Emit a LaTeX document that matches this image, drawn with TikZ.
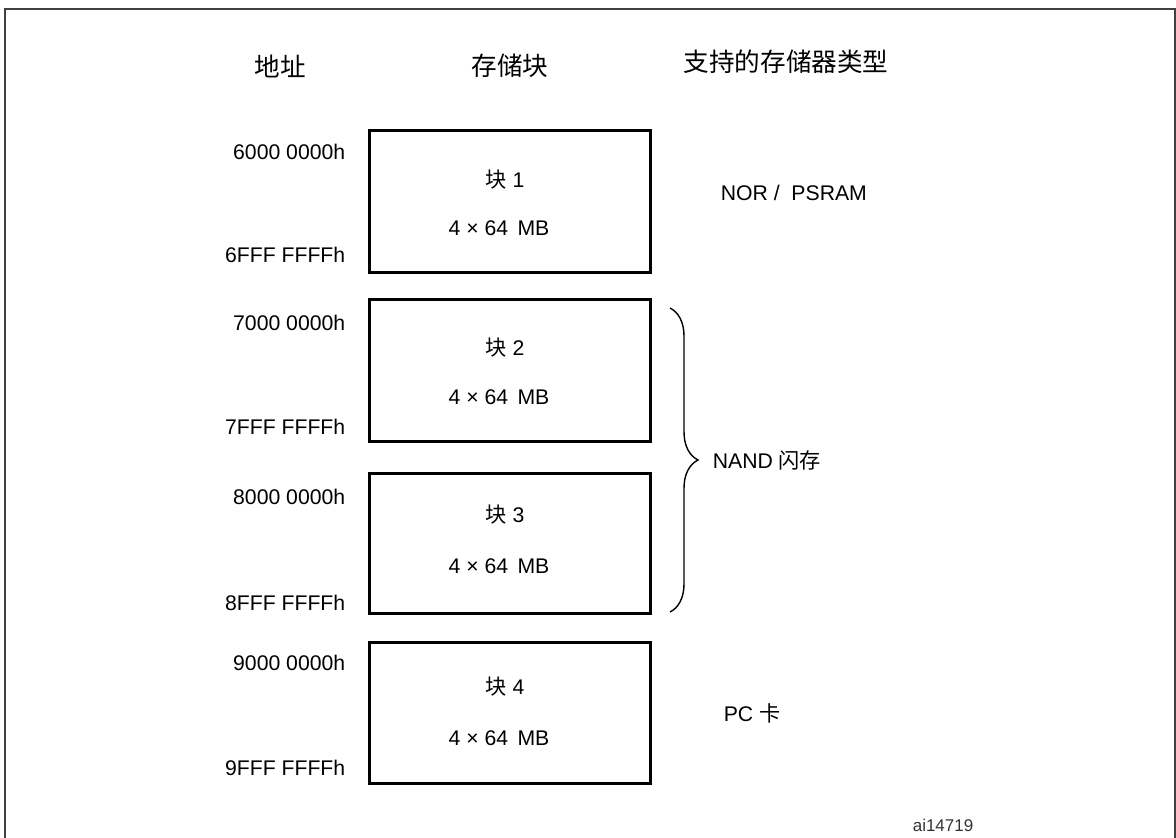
\documentclass[tikz,border=0pt]{standalone}
\usepackage{fontspec}
\setmainfont{Liberation Sans}
\newfontfamily\cjk{Noto Sans CJK SC}
\usepackage{tikz}
\usetikzlibrary{
    positioning,
    decorations.pathreplacing
}

\tikzset{
    blk/.style={draw, line width=1.5pt, minimum width=140.5pt, inner sep=0pt},
    lbl/.style={inner sep=0pt, font=\fontsize{10.6}{12}\selectfont},
    addr/.style={lbl, anchor=east},
    head/.style={inner sep=0pt, font=\fontsize{12.8}{14}\selectfont\cjk}
}

\begin{document}
\begin{tikzpicture}[x=0.5pt,y=-0.5pt,thick]

\useasboundingbox (0,0) rectangle (1176,837);

% frame
\draw[line width=0.6pt, black!75] (5,9) rectangle (1175,870);

% headers
\node[head] (hAddr) at (280,66) {地址};
\node[head] (hBlk) at (510,66) {存储块};
\node[head] (hType) at (786,62) {支持的存储器类型};

% blocks with start/end address
\foreach \n/\top/\bot/\lo/\hi/\ya/\yb/\yt/\ym in {
    1/129/274/6000/6FFF/152/255/180/228,
    2/298/443/7000/7FFF/323/427/348/397,
    3/472/615/8000/8FFF/497/603/515/566,
    4/641/785/9000/9FFF/663/768/687/738}{
    \node[blk, minimum height={(\bot-\top-3)*0.5pt}]
        (blk\n) at (510,{(\top+\bot)/2}) {};
    \node[lbl] (name\n) at (505,\yt) {{\cjk 块} \n};
    \node[lbl] (size\n) at (499,\ym) {4 × 64\, MB};
    \node[addr] (lo\n) at (346,\ya) {\lo\ 0000h};
    \node[addr] (hi\n) at (346,\yb) {\hi\ FFFFh};
}

% memory types
\node[lbl, anchor=west] (tNor) at (720,193) {NOR /\ \ PSRAM};

\coordinate (brTop) at (670,308);
\coordinate (brBot) at (670,612);
\coordinate (brTip) at (698,460);
\draw[line width=0.7pt, decorate,
      decoration={brace, amplitude=14pt, aspect=0.5}] (brTop) -- (brBot);
\node[lbl, right=7pt of brTip, anchor=west] (tNand) {NAND {\cjk 闪存}};

\node[lbl, anchor=west] (tPc) at (723,713) {PC {\cjk 卡}};

% figure id
\node[inner sep=0pt, anchor=west, font=\fontsize{8.5}{10}\selectfont,
      black!80] (figId) at (912,825) {ai14719};

\end{tikzpicture}
\end{document}
